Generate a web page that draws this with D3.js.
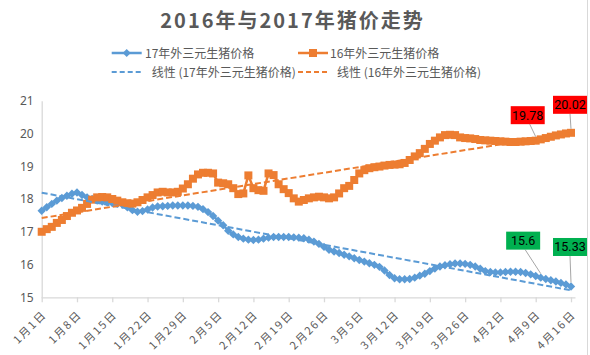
<!DOCTYPE html>
<html><head><meta charset="utf-8">
<script src="https://cdn.jsdelivr.net/npm/d3@7"></script>
<style>body{margin:0;background:#fff;} svg{display:block}</style>
</head><body>
<svg id="c" width="590" height="355"></svg>
<script>
const title = "2016年与2017年猪价走势";
const seriesNames = ["17年外三元生猪价格", "16年外三元生猪价格"];
const trendNames = ["线性 (17年外三元生猪价格)", "线性 (16年外三元生猪价格)"];
const startDate = "2017-01-01";
const prices17 = [
  17.64,17.75,17.85,17.95,18.03,18.10,18.16,18.20,18.12,18.05,
  18.00,17.95,17.92,17.90,17.88,17.86,17.83,17.75,17.66,17.61,
  17.63,17.68,17.74,17.77,17.78,17.79,17.80,17.80,17.80,17.80,
  17.79,17.76,17.69,17.60,17.48,17.34,17.20,17.03,16.92,16.84,
  16.79,16.76,16.75,16.76,16.79,16.82,16.84,16.84,16.84,16.84,
  16.83,16.82,16.80,16.76,16.70,16.63,16.54,16.45,16.40,16.35,
  16.30,16.25,16.19,16.14,16.09,16.04,15.99,15.93,15.82,15.68,
  15.58,15.55,15.55,15.56,15.60,15.66,15.72,15.80,15.88,15.94,
  15.98,16.01,16.03,16.03,16.02,15.99,15.94,15.87,15.80,15.77,
  15.76,15.76,15.77,15.78,15.78,15.77,15.74,15.70,15.65,15.60,
  15.56,15.52,15.48,15.44,15.39,15.33
];
const prices16 = [
  17.00,17.08,17.15,17.27,17.36,17.48,17.58,17.65,17.73,17.85,
  17.98,18.05,18.06,18.05,18.00,17.95,17.90,17.87,17.86,17.90,
  17.97,18.05,18.12,18.20,18.22,18.20,18.20,18.22,18.32,18.45,
  18.62,18.75,18.80,18.80,18.78,18.50,18.48,18.45,18.33,18.15,
  18.17,18.72,18.33,18.27,18.25,18.78,18.73,18.45,18.30,18.18,
  18.02,17.92,17.97,18.02,18.05,18.07,18.05,18.02,18.05,18.17,
  18.33,18.40,18.58,18.78,18.88,18.94,18.97,18.99,19.02,19.04,
  19.05,19.06,19.10,19.19,19.30,19.40,19.53,19.68,19.78,19.88,
  19.95,19.96,19.95,19.88,19.86,19.85,19.83,19.80,19.79,19.78,
  19.77,19.76,19.75,19.74,19.74,19.75,19.76,19.77,19.78,19.82,
  19.86,19.90,19.94,19.97,20.00,20.02
];
const xTickLabels = ["1月1日","1月8日","1月15日","1月22日","1月29日","2月5日","2月12日","2月19日","2月26日","3月5日","3月12日","3月19日","3月26日","4月2日","4月9日","4月16日"];
const yTicks = [15, 16, 17, 18, 19, 20, 21];
const labelIdx17 = [99, 105];
const labelIdx16 = [98, 105];

const BLUE = "#5B9BD5", ORANGE = "#ED7D31", TXT = "#595959", AX = "#D9D9D9";
const svg = d3.select("#c");
const start = d3.timeParse("%Y-%m-%d")(startDate);
const dates = prices17.map((_, i) => d3.timeDay.offset(start, i));
const x = d3.scaleTime().domain([dates[0], dates[dates.length - 1]]).range([41.7, 571]);
const y = d3.scaleLinear().domain([15, 21]).range([297.3, 100.7]);
const tickDates = xTickLabels.map(s => {
  const m = s.match(/(\d+)月(\d+)日/);
  return new Date(start.getFullYear(), +m[1] - 1, +m[2]);
});

// border right
svg.append("line").attr("x1", 587.5).attr("x2", 587.5).attr("y1", 0).attr("y2", 355).attr("stroke", AX);

// title
svg.append("text").attr("x", 292.5).attr("y", 27.5).attr("text-anchor", "middle")
  .attr("font-family", "'Noto Sans CJK SC', sans-serif").attr("font-weight", 700)
  .attr("font-size", 20).attr("letter-spacing", 2).attr("fill", TXT).text(title);

// y axis
const yAxis = d3.axisLeft(y).tickValues(yTicks).tickSize(0).tickPadding(8).tickFormat(d3.format("d"));
const gy = svg.append("g").attr("transform", "translate(41.7,0)").call(yAxis);
gy.select(".domain").attr("stroke", AX).attr("stroke-width", 1.3);
gy.selectAll("text").attr("font-family", "'Noto Sans', sans-serif").attr("font-size", 12).attr("fill", TXT);

// x axis
const xAxis = d3.axisBottom(x).tickValues(tickDates).tickSize(5).tickSizeOuter(0).tickFormat((d, i) => xTickLabels[i]);
const gx = svg.append("g").attr("transform", "translate(0,297.3)").call(xAxis);
gx.select(".domain").attr("stroke", AX).attr("stroke-width", 1.3).attr("d", `M41.7,0.5H575.5`);
gx.selectAll(".tick line").attr("stroke", AX).attr("stroke-width", 1.3);
gx.selectAll(".tick text")
  .attr("font-family", "'Noto Sans CJK SC', sans-serif").attr("font-size", 11)
  .attr("letter-spacing", 1.8).attr("fill", TXT)
  .attr("text-anchor", "end").attr("dy", null).attr("y", null)
  .attr("transform", "translate(5,18) rotate(-45)");

// series
const line = d3.line().x((d, i) => x(dates[i])).y(d => y(d));
const diamond = r => `M0,${-r}L${r},0L0,${r}L${-r},0Z`;

function drawSeries(data, color, shape) {
  svg.append("path").datum(data).attr("d", line).attr("fill", "none")
    .attr("stroke", color).attr("stroke-width", 2.5).attr("stroke-linejoin", "round");
  const g = svg.append("g");
  g.selectAll("path").data(data).join("path")
    .attr("transform", (d, i) => `translate(${x(dates[i])},${y(d)})`)
    .attr("d", shape === "diamond" ? diamond(4.2) : "M-4,-4H4V4H-4Z")
    .attr("fill", color);
}
drawSeries(prices17, BLUE, "diamond");
drawSeries(prices16, ORANGE, "square");

// trendlines (least squares)
function trend(data) {
  const n = data.length, xs = d3.range(n);
  const mx = d3.mean(xs), my = d3.mean(data);
  const b = d3.sum(xs, i => (i - mx) * (data[i] - my)) / d3.sum(xs, i => (i - mx) ** 2);
  const a = my - b * mx;
  return [a, a + b * (n - 1)];
}
[[prices17, BLUE], [prices16, ORANGE]].forEach(([data, color]) => {
  const [v0, v1] = trend(data);
  svg.append("line").attr("x1", x(dates[0])).attr("y1", y(v0))
    .attr("x2", x(dates[data.length - 1])).attr("y2", y(v1))
    .attr("stroke", color).attr("stroke-width", 2).attr("stroke-dasharray", "6,3");
});

// data labels
function dataLabel(data, idx, fill, dx, dy) {
  const px = x(dates[idx]), py = y(data[idx]);
  const cx = px + dx, cy = py + dy;
  const w = 34, h = 18;
  svg.append("line").attr("x1", cx + (dx < -3 ? 2 : 0)).attr("y1", cy + h / 2)
    .attr("x2", px).attr("y2", py - 4).attr("stroke", "#A6A6A6").attr("stroke-width", 1);
  svg.append("rect").attr("x", cx - w / 2).attr("y", cy - h / 2).attr("width", w).attr("height", h).attr("fill", fill);
  svg.append("text").attr("x", cx).attr("y", cy + 4.5).attr("text-anchor", "middle")
    .attr("font-family", "Roboto, sans-serif").attr("font-size", 12.5).attr("fill", "#000")
    .text(String(data[idx]));
}
dataLabel(prices16, labelIdx16[0], "#FF0000", -8, -25.5);
dataLabel(prices16, labelIdx16[1], "#FF0000", -1, -28);
dataLabel(prices17, labelIdx17[0], "#00B050", -17.6, -37);
dataLabel(prices17, labelIdx17[1], "#00B050", -1, -39.5);

// legend
const lg = svg.append("g").attr("font-family", "'Noto Sans CJK SC', sans-serif").attr("font-size", 12).attr("fill", TXT);
const legendItems = [
  {x: 111.7, y: 53, color: BLUE, dash: null, marker: "diamond", text: seriesNames[0], tx: 145},
  {x: 298, y: 53, color: ORANGE, dash: null, marker: "square", text: seriesNames[1], tx: 330},
  {x: 111.7, y: 72, color: BLUE, dash: "5,3", marker: null, text: trendNames[0], tx: 151.7},
  {x: 298, y: 72, color: ORANGE, dash: "5,3", marker: null, text: trendNames[1], tx: 337}
];
legendItems.forEach(it => {
  const len = it.marker ? 30 : 32;
  lg.append("line").attr("x1", it.x).attr("x2", it.x + len).attr("y1", it.y).attr("y2", it.y)
    .attr("stroke", it.color).attr("stroke-width", it.dash ? 2 : 2.5).attr("stroke-dasharray", it.dash);
  if (it.marker) {
    lg.append("path").attr("transform", `translate(${it.x + len / 2},${it.y})`)
      .attr("d", it.marker === "diamond" ? diamond(4) : "M-4,-4H4V4H-4Z").attr("fill", it.color);
  }
  lg.append("text").attr("x", it.tx).attr("y", it.y + 4.5).text(it.text);
});
</script>
</body></html>
